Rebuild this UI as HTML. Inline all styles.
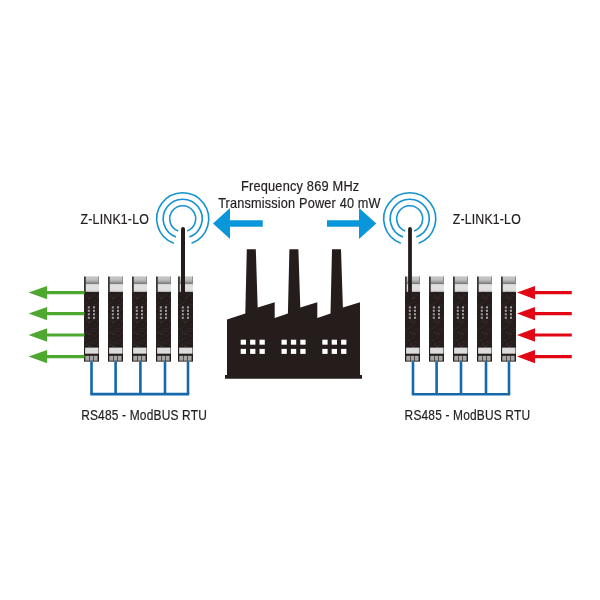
<!DOCTYPE html>
<html><head><meta charset="utf-8"><style>
html,body{margin:0;padding:0;background:#fff;width:600px;height:600px;overflow:hidden}
svg{display:block;position:absolute;left:0;top:0}
.t{position:absolute;font-family:"Liberation Sans",sans-serif;color:#231f20;white-space:nowrap;line-height:1}
</style></head><body>
<svg width="600" height="600" viewBox="0 0 600 600">
<defs><linearGradient id="gtop" x1="0" y1="0" x2="0" y2="1"><stop offset="0" stop-color="#b8b8b8"/><stop offset="0.2" stop-color="#c8c8c8"/><stop offset="0.55" stop-color="#b2b2b2"/><stop offset="0.85" stop-color="#7e7e7e"/><stop offset="1" stop-color="#8c8c8c"/></linearGradient><linearGradient id="gband" x1="0" y1="0" x2="0" y2="1"><stop offset="0" stop-color="#e2e2e2"/><stop offset="0.8" stop-color="#dedede"/><stop offset="1" stop-color="#a8a8a8"/></linearGradient><pattern id="speck" width="12" height="12" patternUnits="userSpaceOnUse"><rect x="3" y="9" width="1" height="1" fill="#2e2626"/><rect x="2" y="5" width="1" height="1" fill="#2e2626"/><rect x="7" y="10" width="1" height="1" fill="#2e2626"/><rect x="1" y="9" width="1" height="1" fill="#352c2c"/><rect x="7" y="4" width="1" height="1" fill="#2e2626"/><rect x="3" y="3" width="1" height="1" fill="#2e2626"/><rect x="7" y="8" width="1" height="1" fill="#2e2626"/><rect x="7" y="6" width="1" height="1" fill="#2e2626"/><rect x="2" y="3" width="1" height="1" fill="#2e2626"/><rect x="2" y="8" width="1" height="1" fill="#3a3131"/><rect x="11" y="0" width="1" height="1" fill="#2e2626"/><rect x="1" y="2" width="1" height="1" fill="#2e2626"/><rect x="0" y="4" width="1" height="1" fill="#352c2c"/><rect x="4" y="7" width="1" height="1" fill="#2e2626"/><rect x="11" y="6" width="1" height="1" fill="#2e2626"/><rect x="6" y="6" width="1" height="1" fill="#2e2626"/><rect x="9" y="7" width="1" height="1" fill="#352c2c"/><rect x="5" y="1" width="1" height="1" fill="#352c2c"/><rect x="2" y="7" width="1" height="1" fill="#352c2c"/><rect x="4" y="10" width="1" height="1" fill="#3a3131"/><rect x="10" y="4" width="1" height="1" fill="#3a3131"/><rect x="8" y="6" width="1" height="1" fill="#2e2626"/><rect x="5" y="8" width="1" height="1" fill="#2e2626"/><rect x="6" y="9" width="1" height="1" fill="#352c2c"/><rect x="5" y="10" width="1" height="1" fill="#352c2c"/><rect x="4" y="9" width="1" height="1" fill="#2e2626"/></pattern></defs>
<path d="M227.0,319.5 L245.3,313.5 L246.8,249.3 L255.8,249.3 L257.7,307.5 L274.7,302.2 L274.7,318.0 L287.9,313.5 L289.4,249.3 L298.4,249.3 L300.3,307.5 L317.3,302.2 L317.3,318.0 L330.5,313.5 L332.0,249.3 L341.0,249.3 L342.9,307.5 L360.0,302.2 L360.0,375.0 L362.0,375.0 L362.0,378.7 L225.0,378.7 L225.0,375.0 L227.0,375.0 Z" fill="#251d1c"/><rect x="240.7" y="339.7" width="5.3" height="5" fill="#fff"/><rect x="250.1" y="339.7" width="5.3" height="5" fill="#fff"/><rect x="259.5" y="339.7" width="5.3" height="5" fill="#fff"/><rect x="240.7" y="348.9" width="5.3" height="5" fill="#fff"/><rect x="250.1" y="348.9" width="5.3" height="5" fill="#fff"/><rect x="259.5" y="348.9" width="5.3" height="5" fill="#fff"/><rect x="281.5" y="339.7" width="5.3" height="5" fill="#fff"/><rect x="290.9" y="339.7" width="5.3" height="5" fill="#fff"/><rect x="300.3" y="339.7" width="5.3" height="5" fill="#fff"/><rect x="281.5" y="348.9" width="5.3" height="5" fill="#fff"/><rect x="290.9" y="348.9" width="5.3" height="5" fill="#fff"/><rect x="300.3" y="348.9" width="5.3" height="5" fill="#fff"/><rect x="322.3" y="339.7" width="5.3" height="5" fill="#fff"/><rect x="331.7" y="339.7" width="5.3" height="5" fill="#fff"/><rect x="341.1" y="339.7" width="5.3" height="5" fill="#fff"/><rect x="322.3" y="348.9" width="5.3" height="5" fill="#fff"/><rect x="331.7" y="348.9" width="5.3" height="5" fill="#fff"/><rect x="341.1" y="348.9" width="5.3" height="5" fill="#fff"/><rect x="84" y="291.8" width="15" height="69.8" fill="#251d1c"/><rect x="84" y="291.8" width="15" height="55.8" fill="url(#speck)"/><rect x="84" y="276.5" width="1.9" height="15.5" fill="#3b3535"/><rect x="85.9" y="276.5" width="13.1" height="8" fill="url(#gtop)"/><rect x="98.1" y="276.5" width="0.9" height="8" fill="#8a8a8a"/><rect x="85.9" y="284.5" width="13.1" height="7.3" fill="url(#gband)"/><rect x="87.8" y="306.4" width="2" height="2" fill="#a2a2a2"/><rect x="93.0" y="306.4" width="2" height="2" fill="#a2a2a2"/><rect x="87.8" y="309.8" width="2" height="2" fill="#a2a2a2"/><rect x="93.0" y="309.8" width="2" height="2" fill="#a2a2a2"/><rect x="87.8" y="313.3" width="2" height="2" fill="#a2a2a2"/><rect x="93.0" y="313.3" width="2" height="2" fill="#a2a2a2"/><rect x="87.8" y="316.8" width="2" height="2" fill="#a2a2a2"/><rect x="93.0" y="316.8" width="2" height="2" fill="#a2a2a2"/><rect x="85.1" y="347.6" width="13.4" height="6.1" fill="#dcdcdc"/><rect x="85.3" y="355.8" width="3.7" height="4.9" fill="#a6a6a6"/><rect x="89.6" y="355.8" width="3.7" height="4.9" fill="#a6a6a6"/><rect x="93.9" y="355.8" width="3.7" height="4.9" fill="#a6a6a6"/><rect x="108" y="291.8" width="15" height="69.8" fill="#251d1c"/><rect x="108" y="291.8" width="15" height="55.8" fill="url(#speck)"/><rect x="108" y="276.5" width="1.9" height="15.5" fill="#3b3535"/><rect x="109.9" y="276.5" width="13.1" height="8" fill="url(#gtop)"/><rect x="122.1" y="276.5" width="0.9" height="8" fill="#8a8a8a"/><rect x="109.9" y="284.5" width="13.1" height="7.3" fill="url(#gband)"/><rect x="111.8" y="306.4" width="2" height="2" fill="#a2a2a2"/><rect x="117.0" y="306.4" width="2" height="2" fill="#a2a2a2"/><rect x="111.8" y="309.8" width="2" height="2" fill="#a2a2a2"/><rect x="117.0" y="309.8" width="2" height="2" fill="#a2a2a2"/><rect x="111.8" y="313.3" width="2" height="2" fill="#a2a2a2"/><rect x="117.0" y="313.3" width="2" height="2" fill="#a2a2a2"/><rect x="111.8" y="316.8" width="2" height="2" fill="#a2a2a2"/><rect x="117.0" y="316.8" width="2" height="2" fill="#a2a2a2"/><rect x="109.1" y="347.6" width="13.4" height="6.1" fill="#dcdcdc"/><rect x="109.3" y="355.8" width="3.7" height="4.9" fill="#a6a6a6"/><rect x="113.6" y="355.8" width="3.7" height="4.9" fill="#a6a6a6"/><rect x="117.9" y="355.8" width="3.7" height="4.9" fill="#a6a6a6"/><rect x="132" y="291.8" width="15" height="69.8" fill="#251d1c"/><rect x="132" y="291.8" width="15" height="55.8" fill="url(#speck)"/><rect x="132" y="276.5" width="1.9" height="15.5" fill="#3b3535"/><rect x="133.9" y="276.5" width="13.1" height="8" fill="url(#gtop)"/><rect x="146.1" y="276.5" width="0.9" height="8" fill="#8a8a8a"/><rect x="133.9" y="284.5" width="13.1" height="7.3" fill="url(#gband)"/><rect x="135.8" y="306.4" width="2" height="2" fill="#a2a2a2"/><rect x="141.0" y="306.4" width="2" height="2" fill="#a2a2a2"/><rect x="135.8" y="309.8" width="2" height="2" fill="#a2a2a2"/><rect x="141.0" y="309.8" width="2" height="2" fill="#a2a2a2"/><rect x="135.8" y="313.3" width="2" height="2" fill="#a2a2a2"/><rect x="141.0" y="313.3" width="2" height="2" fill="#a2a2a2"/><rect x="135.8" y="316.8" width="2" height="2" fill="#a2a2a2"/><rect x="141.0" y="316.8" width="2" height="2" fill="#a2a2a2"/><rect x="133.1" y="347.6" width="13.4" height="6.1" fill="#dcdcdc"/><rect x="133.3" y="355.8" width="3.7" height="4.9" fill="#a6a6a6"/><rect x="137.6" y="355.8" width="3.7" height="4.9" fill="#a6a6a6"/><rect x="141.9" y="355.8" width="3.7" height="4.9" fill="#a6a6a6"/><rect x="156" y="291.8" width="15" height="69.8" fill="#251d1c"/><rect x="156" y="291.8" width="15" height="55.8" fill="url(#speck)"/><rect x="156" y="276.5" width="1.9" height="15.5" fill="#3b3535"/><rect x="157.9" y="276.5" width="13.1" height="8" fill="url(#gtop)"/><rect x="170.1" y="276.5" width="0.9" height="8" fill="#8a8a8a"/><rect x="157.9" y="284.5" width="13.1" height="7.3" fill="url(#gband)"/><rect x="159.8" y="306.4" width="2" height="2" fill="#a2a2a2"/><rect x="165.0" y="306.4" width="2" height="2" fill="#a2a2a2"/><rect x="159.8" y="309.8" width="2" height="2" fill="#a2a2a2"/><rect x="165.0" y="309.8" width="2" height="2" fill="#a2a2a2"/><rect x="159.8" y="313.3" width="2" height="2" fill="#a2a2a2"/><rect x="165.0" y="313.3" width="2" height="2" fill="#a2a2a2"/><rect x="159.8" y="316.8" width="2" height="2" fill="#a2a2a2"/><rect x="165.0" y="316.8" width="2" height="2" fill="#a2a2a2"/><rect x="157.1" y="347.6" width="13.4" height="6.1" fill="#dcdcdc"/><rect x="157.3" y="355.8" width="3.7" height="4.9" fill="#a6a6a6"/><rect x="161.6" y="355.8" width="3.7" height="4.9" fill="#a6a6a6"/><rect x="165.9" y="355.8" width="3.7" height="4.9" fill="#a6a6a6"/><rect x="178" y="291.8" width="15" height="69.8" fill="#251d1c"/><rect x="178" y="291.8" width="15" height="55.8" fill="url(#speck)"/><rect x="178" y="276.5" width="1.9" height="15.5" fill="#3b3535"/><rect x="179.9" y="276.5" width="13.1" height="8" fill="url(#gtop)"/><rect x="192.1" y="276.5" width="0.9" height="8" fill="#8a8a8a"/><rect x="179.9" y="284.5" width="13.1" height="7.3" fill="url(#gband)"/><rect x="181.8" y="306.4" width="2" height="2" fill="#a2a2a2"/><rect x="187.0" y="306.4" width="2" height="2" fill="#a2a2a2"/><rect x="181.8" y="309.8" width="2" height="2" fill="#a2a2a2"/><rect x="187.0" y="309.8" width="2" height="2" fill="#a2a2a2"/><rect x="181.8" y="313.3" width="2" height="2" fill="#a2a2a2"/><rect x="187.0" y="313.3" width="2" height="2" fill="#a2a2a2"/><rect x="181.8" y="316.8" width="2" height="2" fill="#a2a2a2"/><rect x="187.0" y="316.8" width="2" height="2" fill="#a2a2a2"/><rect x="179.1" y="347.6" width="13.4" height="6.1" fill="#dcdcdc"/><rect x="179.3" y="355.8" width="3.7" height="4.9" fill="#a6a6a6"/><rect x="183.6" y="355.8" width="3.7" height="4.9" fill="#a6a6a6"/><rect x="187.9" y="355.8" width="3.7" height="4.9" fill="#a6a6a6"/><rect x="405" y="291.8" width="15" height="69.8" fill="#251d1c"/><rect x="405" y="291.8" width="15" height="55.8" fill="url(#speck)"/><rect x="405" y="276.5" width="1.9" height="15.5" fill="#3b3535"/><rect x="406.9" y="276.5" width="13.1" height="8" fill="url(#gtop)"/><rect x="419.1" y="276.5" width="0.9" height="8" fill="#8a8a8a"/><rect x="406.9" y="284.5" width="13.1" height="7.3" fill="url(#gband)"/><rect x="408.8" y="306.4" width="2" height="2" fill="#a2a2a2"/><rect x="414.0" y="306.4" width="2" height="2" fill="#a2a2a2"/><rect x="408.8" y="309.8" width="2" height="2" fill="#a2a2a2"/><rect x="414.0" y="309.8" width="2" height="2" fill="#a2a2a2"/><rect x="408.8" y="313.3" width="2" height="2" fill="#a2a2a2"/><rect x="414.0" y="313.3" width="2" height="2" fill="#a2a2a2"/><rect x="408.8" y="316.8" width="2" height="2" fill="#a2a2a2"/><rect x="414.0" y="316.8" width="2" height="2" fill="#a2a2a2"/><rect x="406.1" y="347.6" width="13.4" height="6.1" fill="#dcdcdc"/><rect x="406.3" y="355.8" width="3.7" height="4.9" fill="#a6a6a6"/><rect x="410.6" y="355.8" width="3.7" height="4.9" fill="#a6a6a6"/><rect x="414.9" y="355.8" width="3.7" height="4.9" fill="#a6a6a6"/><rect x="429" y="291.8" width="15" height="69.8" fill="#251d1c"/><rect x="429" y="291.8" width="15" height="55.8" fill="url(#speck)"/><rect x="429" y="276.5" width="1.9" height="15.5" fill="#3b3535"/><rect x="430.9" y="276.5" width="13.1" height="8" fill="url(#gtop)"/><rect x="443.1" y="276.5" width="0.9" height="8" fill="#8a8a8a"/><rect x="430.9" y="284.5" width="13.1" height="7.3" fill="url(#gband)"/><rect x="432.8" y="306.4" width="2" height="2" fill="#a2a2a2"/><rect x="438.0" y="306.4" width="2" height="2" fill="#a2a2a2"/><rect x="432.8" y="309.8" width="2" height="2" fill="#a2a2a2"/><rect x="438.0" y="309.8" width="2" height="2" fill="#a2a2a2"/><rect x="432.8" y="313.3" width="2" height="2" fill="#a2a2a2"/><rect x="438.0" y="313.3" width="2" height="2" fill="#a2a2a2"/><rect x="432.8" y="316.8" width="2" height="2" fill="#a2a2a2"/><rect x="438.0" y="316.8" width="2" height="2" fill="#a2a2a2"/><rect x="430.1" y="347.6" width="13.4" height="6.1" fill="#dcdcdc"/><rect x="430.3" y="355.8" width="3.7" height="4.9" fill="#a6a6a6"/><rect x="434.6" y="355.8" width="3.7" height="4.9" fill="#a6a6a6"/><rect x="438.9" y="355.8" width="3.7" height="4.9" fill="#a6a6a6"/><rect x="453" y="291.8" width="15" height="69.8" fill="#251d1c"/><rect x="453" y="291.8" width="15" height="55.8" fill="url(#speck)"/><rect x="453" y="276.5" width="1.9" height="15.5" fill="#3b3535"/><rect x="454.9" y="276.5" width="13.1" height="8" fill="url(#gtop)"/><rect x="467.1" y="276.5" width="0.9" height="8" fill="#8a8a8a"/><rect x="454.9" y="284.5" width="13.1" height="7.3" fill="url(#gband)"/><rect x="456.8" y="306.4" width="2" height="2" fill="#a2a2a2"/><rect x="462.0" y="306.4" width="2" height="2" fill="#a2a2a2"/><rect x="456.8" y="309.8" width="2" height="2" fill="#a2a2a2"/><rect x="462.0" y="309.8" width="2" height="2" fill="#a2a2a2"/><rect x="456.8" y="313.3" width="2" height="2" fill="#a2a2a2"/><rect x="462.0" y="313.3" width="2" height="2" fill="#a2a2a2"/><rect x="456.8" y="316.8" width="2" height="2" fill="#a2a2a2"/><rect x="462.0" y="316.8" width="2" height="2" fill="#a2a2a2"/><rect x="454.1" y="347.6" width="13.4" height="6.1" fill="#dcdcdc"/><rect x="454.3" y="355.8" width="3.7" height="4.9" fill="#a6a6a6"/><rect x="458.6" y="355.8" width="3.7" height="4.9" fill="#a6a6a6"/><rect x="462.9" y="355.8" width="3.7" height="4.9" fill="#a6a6a6"/><rect x="477" y="291.8" width="15" height="69.8" fill="#251d1c"/><rect x="477" y="291.8" width="15" height="55.8" fill="url(#speck)"/><rect x="477" y="276.5" width="1.9" height="15.5" fill="#3b3535"/><rect x="478.9" y="276.5" width="13.1" height="8" fill="url(#gtop)"/><rect x="491.1" y="276.5" width="0.9" height="8" fill="#8a8a8a"/><rect x="478.9" y="284.5" width="13.1" height="7.3" fill="url(#gband)"/><rect x="480.8" y="306.4" width="2" height="2" fill="#a2a2a2"/><rect x="486.0" y="306.4" width="2" height="2" fill="#a2a2a2"/><rect x="480.8" y="309.8" width="2" height="2" fill="#a2a2a2"/><rect x="486.0" y="309.8" width="2" height="2" fill="#a2a2a2"/><rect x="480.8" y="313.3" width="2" height="2" fill="#a2a2a2"/><rect x="486.0" y="313.3" width="2" height="2" fill="#a2a2a2"/><rect x="480.8" y="316.8" width="2" height="2" fill="#a2a2a2"/><rect x="486.0" y="316.8" width="2" height="2" fill="#a2a2a2"/><rect x="478.1" y="347.6" width="13.4" height="6.1" fill="#dcdcdc"/><rect x="478.3" y="355.8" width="3.7" height="4.9" fill="#a6a6a6"/><rect x="482.6" y="355.8" width="3.7" height="4.9" fill="#a6a6a6"/><rect x="486.9" y="355.8" width="3.7" height="4.9" fill="#a6a6a6"/><rect x="501" y="291.8" width="15" height="69.8" fill="#251d1c"/><rect x="501" y="291.8" width="15" height="55.8" fill="url(#speck)"/><rect x="501" y="276.5" width="1.9" height="15.5" fill="#3b3535"/><rect x="502.9" y="276.5" width="13.1" height="8" fill="url(#gtop)"/><rect x="515.1" y="276.5" width="0.9" height="8" fill="#8a8a8a"/><rect x="502.9" y="284.5" width="13.1" height="7.3" fill="url(#gband)"/><rect x="504.8" y="306.4" width="2" height="2" fill="#a2a2a2"/><rect x="510.0" y="306.4" width="2" height="2" fill="#a2a2a2"/><rect x="504.8" y="309.8" width="2" height="2" fill="#a2a2a2"/><rect x="510.0" y="309.8" width="2" height="2" fill="#a2a2a2"/><rect x="504.8" y="313.3" width="2" height="2" fill="#a2a2a2"/><rect x="510.0" y="313.3" width="2" height="2" fill="#a2a2a2"/><rect x="504.8" y="316.8" width="2" height="2" fill="#a2a2a2"/><rect x="510.0" y="316.8" width="2" height="2" fill="#a2a2a2"/><rect x="502.1" y="347.6" width="13.4" height="6.1" fill="#dcdcdc"/><rect x="502.3" y="355.8" width="3.7" height="4.9" fill="#a6a6a6"/><rect x="506.6" y="355.8" width="3.7" height="4.9" fill="#a6a6a6"/><rect x="510.9" y="355.8" width="3.7" height="4.9" fill="#a6a6a6"/><line x1="183" y1="229" x2="183" y2="301" stroke="#251d1c" stroke-width="4" stroke-linecap="round"/><line x1="410" y1="229" x2="410" y2="301" stroke="#251d1c" stroke-width="3.8" stroke-linecap="round"/><path d="M178.25,230.92 A13,13 0 1 1 187.15,230.92" fill="none" stroke="#1592cf" stroke-width="1.6"/><path d="M176.03,237.02 A19.5,19.5 0 1 1 189.37,237.02" fill="none" stroke="#1592cf" stroke-width="1.6"/><path d="M173.81,243.13 A26,26 0 1 1 191.59,243.13" fill="none" stroke="#1592cf" stroke-width="1.6"/><path d="M405.25,230.92 A13,13 0 1 1 414.15,230.92" fill="none" stroke="#1592cf" stroke-width="1.6"/><path d="M403.03,237.02 A19.5,19.5 0 1 1 416.37,237.02" fill="none" stroke="#1592cf" stroke-width="1.6"/><path d="M400.81,243.13 A26,26 0 1 1 418.59,243.13" fill="none" stroke="#1592cf" stroke-width="1.6"/><path d="M213.0,223.5 L230,207.9 L230,220.2 L262.75,220.2 L262.75,226.8 L230,226.8 L230,239.1 Z" fill="#0a96da"/><path d="M376.3,223.5 L359,207.9 L359,220.2 L327,220.2 L327,226.8 L359,226.8 L359,239.1 Z" fill="#0a96da"/><path d="M28.6,292.6 L47.1,285.90000000000003 L47.1,291.0 L84.5,291.0 L84.5,294.20000000000005 L47.1,294.20000000000005 L47.1,299.3 Z" fill="#4ea830"/><path d="M517.0,292.6 L535,285.90000000000003 L535,291.0 L571.8,291.0 L571.8,294.20000000000005 L535,294.20000000000005 L535,299.3 Z" fill="#e30614"/><path d="M28.6,313.6 L47.1,306.90000000000003 L47.1,312.0 L84.5,312.0 L84.5,315.20000000000005 L47.1,315.20000000000005 L47.1,320.3 Z" fill="#4ea830"/><path d="M517.0,313.6 L535,306.90000000000003 L535,312.0 L571.8,312.0 L571.8,315.20000000000005 L535,315.20000000000005 L535,320.3 Z" fill="#e30614"/><path d="M28.6,335.0 L47.1,328.3 L47.1,333.4 L84.5,333.4 L84.5,336.6 L47.1,336.6 L47.1,341.7 Z" fill="#4ea830"/><path d="M517.0,335.0 L535,328.3 L535,333.4 L571.8,333.4 L571.8,336.6 L535,336.6 L535,341.7 Z" fill="#e30614"/><path d="M28.6,356.6 L47.1,349.90000000000003 L47.1,355.0 L84.5,355.0 L84.5,358.20000000000005 L47.1,358.20000000000005 L47.1,363.3 Z" fill="#4ea830"/><path d="M517.0,356.6 L535,349.90000000000003 L535,355.0 L571.8,355.0 L571.8,358.20000000000005 L535,358.20000000000005 L535,363.3 Z" fill="#e30614"/><line x1="91.5" y1="361.5" x2="91.5" y2="394.1" stroke="#1568aa" stroke-width="2.6"/><line x1="115.6" y1="361.5" x2="115.6" y2="394.1" stroke="#1568aa" stroke-width="2.6"/><line x1="140.4" y1="361.5" x2="140.4" y2="394.1" stroke="#1568aa" stroke-width="2.6"/><line x1="165" y1="361.5" x2="165" y2="394.1" stroke="#1568aa" stroke-width="2.6"/><line x1="188" y1="361.5" x2="188" y2="394.1" stroke="#1568aa" stroke-width="2.6"/><line x1="90.3" y1="394.1" x2="189.2" y2="394.1" stroke="#1568aa" stroke-width="2.6"/><line x1="413" y1="361.5" x2="413" y2="394.2" stroke="#1568aa" stroke-width="2.6"/><line x1="436.6" y1="361.5" x2="436.6" y2="394.2" stroke="#1568aa" stroke-width="2.6"/><line x1="461" y1="361.5" x2="461" y2="394.2" stroke="#1568aa" stroke-width="2.6"/><line x1="486" y1="361.5" x2="486" y2="394.2" stroke="#1568aa" stroke-width="2.6"/><line x1="509" y1="361.5" x2="509" y2="394.2" stroke="#1568aa" stroke-width="2.6"/><line x1="411.8" y1="394.2" x2="510.2" y2="394.2" stroke="#1568aa" stroke-width="2.6"/>
<g font-family="Liberation Sans, sans-serif" style="will-change:transform" opacity="0.999">
<text id="t1" transform="translate(240.954,190.8) scale(0.9163,1)" x="0" y="0" font-size="14" letter-spacing="0.2" fill="#231f20" stroke="#231f20" stroke-width="0.2">Frequency 869 MHz</text>
<text id="t2" transform="translate(218.129,208.0) scale(0.9076,1)" x="0" y="0" font-size="14" letter-spacing="0.2" fill="#231f20" stroke="#231f20" stroke-width="0.2">Transmission Power 40 mW</text>
<text id="t3" transform="translate(80.601,224.2) scale(0.8836,1)" x="0" y="0" font-size="14" letter-spacing="0.2" fill="#231f20" stroke="#231f20" stroke-width="0.2">Z-LINK1-LO</text>
<text id="t4" transform="translate(452.783,224.2) scale(0.8801,1)" x="0" y="0" font-size="14" letter-spacing="0.2" fill="#231f20" stroke="#231f20" stroke-width="0.2">Z-LINK1-LO</text>
<text id="t5" transform="translate(81.165,420.0) scale(0.8547,1)" x="0" y="0" font-size="14" letter-spacing="0.2" fill="#231f20" stroke="#231f20" stroke-width="0.2">RS485 - ModBUS RTU</text>
<text id="t6" transform="translate(404.616,420.2) scale(0.8537,1)" x="0" y="0" font-size="14" letter-spacing="0.2" fill="#231f20" stroke="#231f20" stroke-width="0.2">RS485 - ModBUS RTU</text>
</g>
</svg>

</body></html>
